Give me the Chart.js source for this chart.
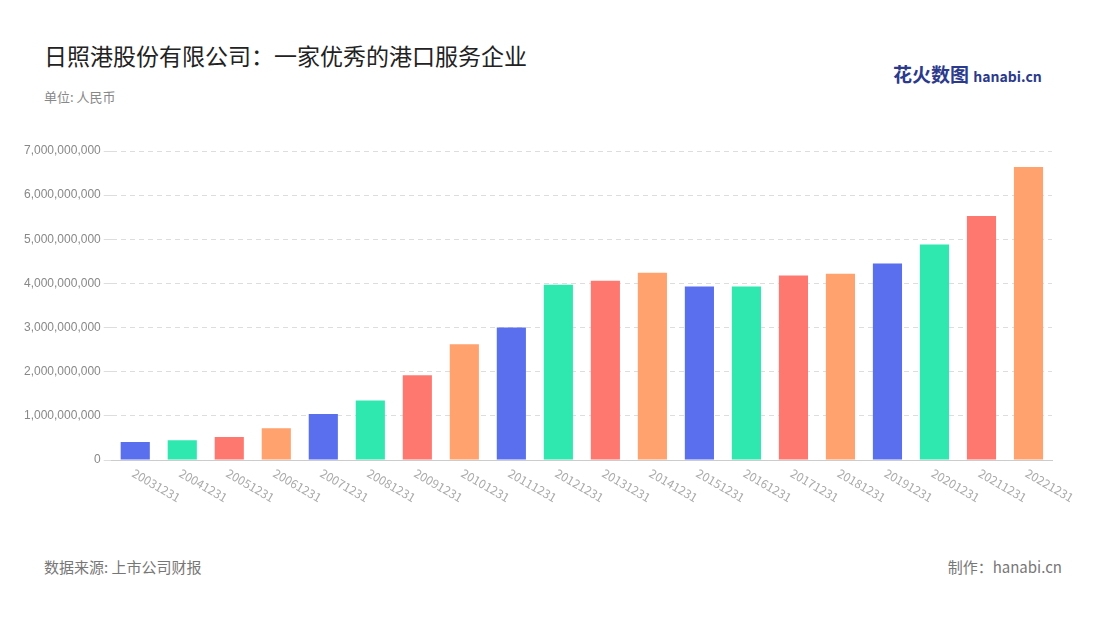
<!DOCTYPE html>
<html><head><meta charset="utf-8">
<script src="https://cdn.jsdelivr.net/npm/chart.js@4"></script>
<style>
body{margin:0;width:1100px;height:620px;background:#fff;font-family:"Noto Sans CJK SC","Noto Sans",sans-serif;position:relative;overflow:hidden}
#title{position:absolute;left:44px;top:38px;font-size:23px;color:#222}
#unit{position:absolute;left:44px;top:87px;font-size:13px;color:#888}
#logo{position:absolute;left:893px;top:60px;font-size:19px;font-weight:bold;color:#2b3a8c}
#logo small{font-size:14px;color:#2b3a8c}
#src{position:absolute;left:44px;top:556px;font-size:15px;color:#777}
#made{position:absolute;right:38px;top:556px;font-size:15px;color:#777}
#wrap{position:absolute;left:0;top:130px;width:1100px;height:400px}
</style></head><body>
<div id="title">日照港股份有限公司：一家优秀的港口服务企业</div>
<div id="unit">单位: 人民币</div>
<div id="logo">花火数图 <small>hanabi.cn</small></div>
<div id="src">数据来源: 上市公司财报</div>
<div id="made">制作：hanabi.cn</div>
<div id="wrap"><canvas id="c"></canvas></div>
<script>
const years = ['20031231','20041231','20051231','20061231','20071231','20081231','20091231','20101231','20111231','20121231','20131231','20141231','20151231','20161231','20171231','20181231','20191231','20201231','20211231','20221231'];
const values = [0.41,0.45,0.52,0.72,1.04,1.35,1.92,2.62,3.0,3.97,4.06,4.24,3.93,3.93,4.18,4.22,4.45,4.88,5.53,6.64].map(v => v * 1e9);
const palette = ['#5A6FEE','#2EE8B0','#FF7870','#FFA26E'];

// x labels slant down to the right, starting at the tick
const slantLabels = {
  id: 'slantLabels',
  afterDraw(chart) {
    const ctx = chart.ctx, x = chart.scales.x, y0 = chart.scales.y.bottom;
    ctx.save();
    ctx.font = '12px "Noto Sans CJK SC", sans-serif';
    ctx.fillStyle = '#aaa';
    ctx.textBaseline = 'middle';
    years.forEach((y, i) => {
      ctx.save();
      ctx.translate(x.getPixelForTick(i) - 2, y0 + 12);
      ctx.rotate(Math.PI / 6);
      ctx.fillText(y, 0, 0);
      ctx.restore();
    });
    ctx.restore();
  }
};

new Chart(document.getElementById('c'), {
  type: 'bar',
  data: {
    labels: years,
    datasets: [{
      data: values,
      backgroundColor: years.map((y, i) => palette[i % 4]),
      categoryPercentage: 0.62,
      barPercentage: 1
    }]
  },
  plugins: [slantLabels],
  options: {
    responsive: true,
    maintainAspectRatio: false,
    animation: false,
    layout: {padding: {left: 21, right: 48, top: 21, bottom: 62}},
    plugins: {legend: {display: false}, tooltip: {enabled: false}},
    scales: {
      x: {
        grid: {display: false},
        border: {color: '#ccc'},
        ticks: {display: false}
      },
      y: {
        min: 0, max: 7e9,
        ticks: {stepSize: 1e9, color: '#888', font: {size: 12}, callback: v => v.toLocaleString('en-US')},
        grid: {color: '#ddd', borderDash: [5, 4]},
        border: {display: false, dash: [5, 4]}
      }
    }
  }
});
</script>
</body></html>
